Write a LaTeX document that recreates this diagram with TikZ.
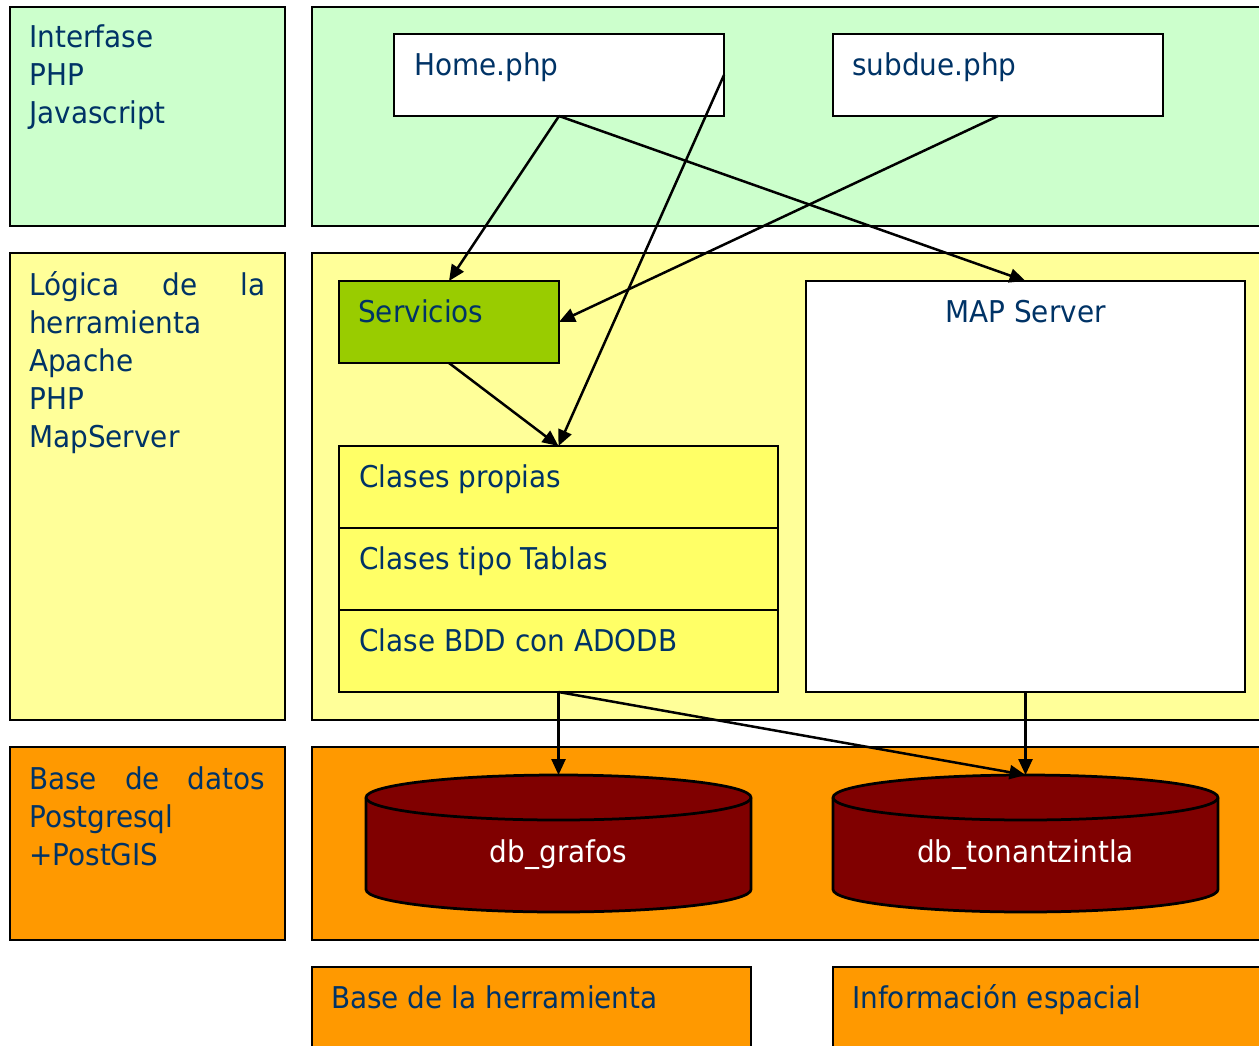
\documentclass[tikz,border=0pt]{standalone}
\usepackage{fontspec}
\setmainfont{DejaVu Sans}[FakeStretch=0.93]
\usetikzlibrary{arrows.meta}
\usetikzlibrary{calc}

\definecolor{txtblue}{RGB}{0,51,102}
\definecolor{mint}{RGB}{204,255,204}
\definecolor{paleyellow}{RGB}{255,255,153}
\definecolor{lemon}{RGB}{255,255,102}
\definecolor{leaf}{RGB}{153,204,0}
\definecolor{tangerine}{RGB}{255,153,0}
\definecolor{dbred}{RGB}{128,0,0}

\tikzset{
  box/.style={draw=black, line width=2.75pt, rectangle, inner sep=0pt, outer sep=0pt, anchor=north west},
  txt/.style={text=txtblue, font=\fontsize{30}{38}\selectfont, inner sep=0pt, anchor=base west},
  side/.style={txt, text width=236pt, align=left},
  db/.style={draw=black, line width=2.75pt},
  dbtxt/.style={text=white, font=\fontsize{30}{38}\selectfont, inner sep=0pt, outer sep=0pt, minimum width=385pt, minimum height=137pt, text height=37pt, text depth=0pt},
  link/.style={line width=2.5pt, -{Triangle[length=16pt,width=14pt]}},
}

\begin{document}
\begin{tikzpicture}[x=1pt, y=1pt]
  \useasboundingbox (0,0) rectangle (1259,-1045);

  % columna izquierda
  \node[box, fill=mint, minimum width=275pt, minimum height=219pt] (interfase) at (10,-7) {};
  \node[box, fill=paleyellow, minimum width=275pt, minimum height=467pt] (logica) at (10,-253) {};
  \node[box, fill=tangerine, minimum width=275pt, minimum height=193pt] (basedatos) at (10,-747) {};
  \node[side] (interfase txt) at ($(interfase.north west)+(19,-40)$) {Interfase\\PHP\\Javascript};
  \node[side] (logica txt) at ($(logica.north west)+(19,-42)$) {\hbox to 236pt{Lógica\hfill de\hfill la}\\herramienta\\Apache\\PHP\\MapServer};
  \node[side] (basedatos txt) at ($(basedatos.north west)+(19,-42)$) {\hbox to 236pt{Base\hfill de\hfill datos}\\Postgresql\\+PostGIS};

  % bandas
  \node[box, fill=mint, minimum width=968pt, minimum height=219pt] (banda1) at (312,-7) {};
  \node[box, fill=paleyellow, minimum width=968pt, minimum height=467pt] (banda2) at (312,-253) {};
  \node[box, fill=tangerine, minimum width=968pt, minimum height=193pt] (banda3) at (312,-747) {};
  \node[box, fill=tangerine, minimum width=439pt, minimum height=100pt] (baseh) at (312,-967) {};
  \node[box, fill=tangerine, minimum width=447pt, minimum height=100pt] (infoesp) at (833,-967) {};
  \node[txt] (baseh txt) at ($(baseh.north west)+(19,-41)$) {Base de la herramienta};
  \node[txt] (infoesp txt) at ($(infoesp.north west)+(19,-41)$) {Información espacial};

  % paginas php
  \node[box, fill=white, minimum width=330pt, minimum height=82pt] (home) at (394,-34) {};
  \node[box, fill=white, minimum width=330pt, minimum height=82pt] (subdue) at (833,-34) {};
  \node[txt] (home txt) at ($(home.north west)+(20,-41)$) {Home.php};
  \node[txt] (subdue txt) at ($(subdue.north west)+(19,-41)$) {subdue.php};

  % logica
  \node[box, fill=leaf, minimum width=220pt, minimum height=82pt] (servicios) at (339,-281) {};
  \node[box, fill=white, minimum width=439pt, minimum height=411pt] (map) at (806,-281) {};
  \node[box, fill=lemon, minimum width=439pt, minimum height=82pt] (propias) at (339,-446) {};
  \node[box, fill=lemon, minimum width=439pt, minimum height=82pt] (tablas) at (339,-528) {};
  \node[box, fill=lemon, minimum width=439pt, minimum height=82pt] (bdd) at (339,-610) {};
  \node[txt] (servicios txt) at ($(servicios.north west)+(19,-41)$) {Servicios};
  \node[txt, anchor=base] (map txt) at ($(map.north)+(0,-41)$) {MAP Server};
  \node[txt] (propias txt) at ($(propias.north west)+(20,-41)$) {Clases propias};
  \node[txt] (tablas txt) at ($(tablas.north west)+(20,-41)$) {Clases tipo Tablas};
  \node[txt] (bdd txt) at ($(bdd.north west)+(20,-41)$) {Clase BDD con ADODB};

  % bases de datos
  \foreach \dbname/\x/\label in {grafos/558.5/db\_grafos, tonan/1025.5/db\_tonantzintla}{
    \coordinate (\dbname c) at (\x,-843.5);
    \draw[db, fill=dbred] ($(\dbname c)+(-192.5,46)$) -- ++(0,-92)
      arc[start angle=180, end angle=360, x radius=192.5, y radius=22.5] -- ++(0,92)
      arc[start angle=0, end angle=180, x radius=192.5, y radius=22.5] -- cycle;
    \draw[db] ($(\dbname c)+(-192.5,46)$) arc[start angle=180, end angle=360, x radius=192.5, y radius=22.5];
    \node[dbtxt] (\dbname) at (\dbname c) {\label};
  }

  % flechas
  \draw[link] (home.south) -- (servicios.north);
  \draw[link] (home.south) -- (map.north);
  \draw[link] (home.east) -- (propias.north);
  \draw[link] (subdue.south) -- (servicios.east);
  \draw[link] (servicios.south) -- (propias.north);
  \draw[link] (bdd.south) -- (grafos.north);
  \draw[link] (bdd.south) -- (tonan.north);
  \draw[link] (map.south) -- (tonan.north);
\end{tikzpicture}
\end{document}
